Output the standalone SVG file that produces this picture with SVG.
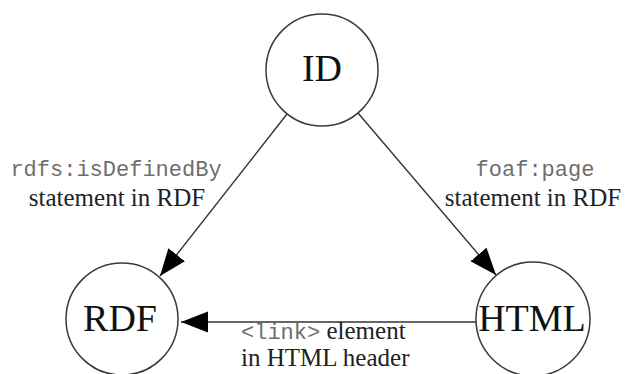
<svg xmlns="http://www.w3.org/2000/svg" width="627" height="374" viewBox="0 0 627 374">
<style>
.node circle{fill:#fff;stroke:#3a3a3a;stroke-width:1.5}
.nl{font-family:"Liberation Serif","Times New Roman",serif;font-size:38px;fill:#111;text-anchor:middle}
.el{font-family:"Liberation Serif","Times New Roman",serif;font-size:25px;fill:#222}
.mono{font-family:"Liberation Mono","Courier New",monospace;font-size:22px;fill:#6e6e6e}
.edge{stroke:#333;stroke-width:1.4;fill:none;marker-end:url(#ah)}
</style>
<defs>
<marker id="ah" markerUnits="userSpaceOnUse" markerWidth="28" markerHeight="22" refX="27" refY="10.5" orient="auto">
<path d="M0,0 L27,10.5 L0,21 z" fill="#000"/>
</marker>
</defs>
<rect width="627" height="374" fill="#fff"/>
<g id="edges">
<line class="edge" x1="287" y1="114" x2="160" y2="276"/>
<line class="edge" x1="358" y1="113" x2="496" y2="275"/>
<line class="edge" x1="476" y1="322" x2="181" y2="322"/>
</g>
<g id="node-ID" class="node">
<circle cx="322" cy="70" r="56"/>
<text class="nl" x="322" y="81">ID</text>
</g>
<g id="node-RDF" class="node">
<circle cx="122" cy="319" r="56"/>
<text class="nl" x="120" y="331">RDF</text>
</g>
<g id="node-HTML" class="node">
<circle cx="533" cy="319" r="57"/>
<text class="nl" x="532" y="331">HTML</text>
</g>
<g id="labels">
<text class="mono" x="116" y="176" text-anchor="middle">rdfs:isDefinedBy</text>
<text class="el" x="117" y="206" text-anchor="middle">statement in RDF</text>
<text class="mono" x="535" y="176" text-anchor="middle">foaf:page</text>
<text class="el" x="533" y="206" text-anchor="middle">statement in RDF</text>
<text x="241" y="339"><tspan class="mono">&lt;link&gt;</tspan><tspan class="el"> element</tspan></text>
<text class="el" x="241" y="366">in HTML header</text>
</g>
</svg>
